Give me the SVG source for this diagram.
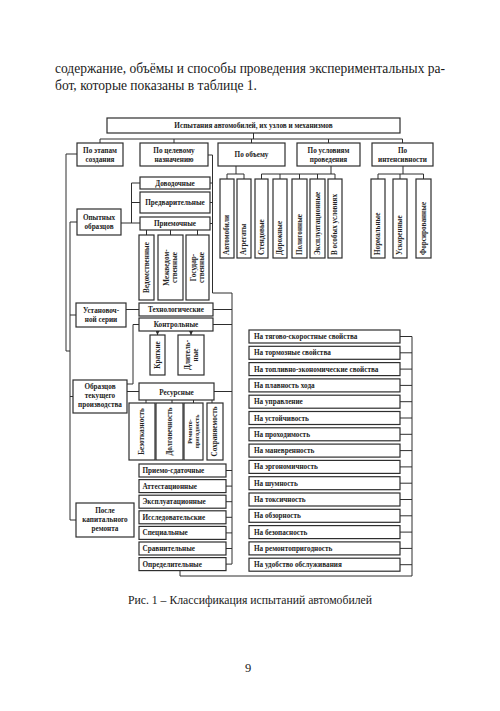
<svg xmlns="http://www.w3.org/2000/svg" width="500" height="711" viewBox="0 0 500 711">
<style>
.b{fill:#fff;stroke:#2e2e2e;stroke-width:1.2}
.c{fill:none;stroke:#2e2e2e;stroke-width:1}
.t,.l,.vs,.p{font-family:'Liberation Serif','DejaVu Serif','Times New Roman',serif}
.t{font-weight:bold;font-size:7.2px;fill:#222;text-anchor:middle}
.l{font-weight:bold;font-size:7.2px;fill:#222;text-anchor:start}
.vs{font-weight:bold;font-size:7.2px;fill:#222;text-anchor:start}
.p{fill:#1a1a1a}
</style>
<defs>
<marker id="ah" markerWidth="4" markerHeight="4" refX="4" refY="2" orient="auto" markerUnits="userSpaceOnUse"><path d="M0,0 L4,2 L0,4 Z" fill="#2e2e2e"/></marker>
</defs>
<rect width="500" height="711" fill="#fff"/>
<text class="p" x="55" y="73" font-size="14.5" textLength="390" lengthAdjust="spacingAndGlyphs">содержание, объёмы и способы проведения экспериментальных ра-</text>
<text class="p" x="55" y="89.5" font-size="14.5" textLength="202" lengthAdjust="spacingAndGlyphs">бот, которые показаны в таблице 1.</text>

<g id="connectors">
<path class="c" d="M253.5,133V139M100,139H402.5M100,139V143M174,139V143M251.5,139V143M328.5,139V143M402.5,139V143"/>
<path class="c" d="M236,166V174M227,174H244M227,174V179M244,174V179"/>
<path class="c" d="M331,166V174M261.5,174H335M261.5,174V179M280,174V179M299.5,174V179M317.5,174V179M335,174V179"/>
<path class="c" d="M403,166V174M378,174H423.5M378,174V179M400,174V179M423.5,174V179"/>
<path class="c" d="M77,154H66V351H70M70,222V520M70,222H77M70,315H76M70,396.5H73M70,520H76"/>
<path class="c" d="M121,223H140M131.5,183V223M131.5,183H140M131.5,202.5H140"/>
<path class="c" d="M208,155H212.5V293H232V564M210,183H212.5M210,202.5H212.5M210,223.5H212.5M213,309.5H232M213,324.5H232M214,391.5H232"/>
<path class="c" d="M226,470.5H232M226,486.1H232M226,501.7H232M226,517.3H232M226,532.9H232M226,548.5H232M226,564.1H232"/>
<path class="c" d="M146.5,230V235M170.5,230V235M197.5,230V235"/>
<path class="c" d="M126,309.5H139M127,384H133V324.5H139M127,391.5H139"/>
<path class="c" d="M157.5,331V335" marker-end="url(#ah)"/>
<path class="c" d="M191,331V335" marker-end="url(#ah)"/>
<path class="c" d="M146,400V403M172,400V403M193.5,400V403M212,400V403"/>
<path class="c" d="M180,570.6V576H412V336.5M400,336.5H412M400,352.8H412M400,369.1H412M400,385.4H412M400,401.7H412M400,418H412M400,434.3H412M400,450.6H412M400,466.9H412M400,483.2H412M400,499.5H412M400,515.8H412M400,532.1H412M400,548.4H412M400,564.7H412"/>
</g>

<g id="root"><rect class="b" x="107" y="118" width="293" height="15"/><text class="t" x="253.5" y="128.3">Испытания автомобилей, их узлов и механизмов</text></g>

<g id="po-etapam"><rect class="b" x="77" y="143" width="46" height="23"/><text class="t" x="100" y="152.5">По этапам</text><text class="t" x="100" y="161.5">создания</text></g>
<g id="po-celevomu"><rect class="b" x="140" y="143" width="68" height="23"/><text class="t" x="174" y="152.5">По целевому</text><text class="t" x="174" y="161.5">назначению</text></g>
<g id="po-obemu"><rect class="b" x="218" y="143" width="67" height="23"/><text class="t" x="251.5" y="157">По объему</text></g>
<g id="po-usloviyam"><rect class="b" x="297" y="143" width="63" height="23"/><text class="t" x="328.5" y="152.5">По условиям</text><text class="t" x="328.5" y="161.5">проведения</text></g>
<g id="po-intensivnosti"><rect class="b" x="372" y="143" width="61" height="23"/><text class="t" x="402.5" y="152.5">По</text><text class="t" x="402.5" y="161.5">интенсивности</text></g>

<g id="avtomobili"><rect class="b" x="220" y="179" width="14" height="79"/><text class="vs" transform="translate(229.4,255) rotate(-90)">Автомобили</text></g>
<g id="agregaty"><rect class="b" x="237" y="179" width="14" height="79"/><text class="vs" transform="translate(246.4,255) rotate(-90)">Агрегаты</text></g>
<g id="stendovye"><rect class="b" x="255" y="179" width="13" height="79"/><text class="vs" transform="translate(263.9,255) rotate(-90)">Стендовые</text></g>
<g id="dorozhnye"><rect class="b" x="273" y="179" width="14" height="79"/><text class="vs" transform="translate(282.4,255) rotate(-90)">Дорожные</text></g>
<g id="poligonnye"><rect class="b" x="292" y="179" width="15" height="79"/><text class="vs" transform="translate(301.9,255) rotate(-90)">Полигонные</text></g>
<g id="ekspl-usl"><rect class="b" x="310" y="179" width="15" height="79"/><text class="vs" transform="translate(319.9,255) rotate(-90)">Эксплуатационные</text></g>
<g id="osobye"><rect class="b" x="328" y="179" width="14" height="79"/><text class="vs" transform="translate(337.4,255) rotate(-90)">В особых условиях</text></g>
<g id="normalnye"><rect class="b" x="371" y="179" width="14" height="79"/><text class="vs" transform="translate(380.4,255) rotate(-90)">Нормальные</text></g>
<g id="uskorennye"><rect class="b" x="393" y="179" width="14" height="79"/><text class="vs" transform="translate(402.4,255) rotate(-90)">Ускоренные</text></g>
<g id="forsirovannye"><rect class="b" x="416" y="179" width="15" height="79"/><text class="vs" transform="translate(425.9,255) rotate(-90)">Форсированные</text></g>

<g id="dovodochnye"><rect class="b" x="140" y="177" width="70" height="12"/><text class="t" x="175" y="185.5">Доводочные</text></g>
<g id="predvaritelnye"><rect class="b" x="140" y="192" width="70" height="21"/><text class="t" x="175" y="205">Предварительные</text></g>
<g id="priemochnye"><rect class="b" x="140" y="217" width="70" height="13"/><text class="t" x="175" y="226">Приемочные</text></g>

<g id="vedomstvennye"><rect class="b" x="139" y="235" width="15" height="65"/><text class="t" transform="translate(148.9,267.5) rotate(-90)">Ведомственные</text></g>
<g id="mezhvedom"><rect class="b" x="158" y="235" width="25" height="65"/><text class="t" transform="translate(169,267.5) rotate(-90)">Межведом-</text><text class="t" transform="translate(177,267.5) rotate(-90)">ственные</text></g>
<g id="gosudar"><rect class="b" x="186" y="235" width="23" height="65"/><text class="t" transform="translate(196,267.5) rotate(-90)">Государ-</text><text class="t" transform="translate(204,267.5) rotate(-90)">ственные</text></g>

<g id="opytnyh"><rect class="b" x="77" y="209" width="44" height="26"/><text class="t" x="99" y="219.5">Опытных</text><text class="t" x="99" y="228.5">образцов</text></g>
<g id="ustanovochnoy"><rect class="b" x="76" y="303" width="50" height="24"/><text class="t" x="101" y="312.5">Установоч-</text><text class="t" x="101" y="321.5">ной серии</text></g>
<g id="tekushchego"><rect class="b" x="73" y="380" width="54" height="33"/><text class="t" x="100" y="389">Образцов</text><text class="t" x="100" y="398">текущего</text><text class="t" x="100" y="407">производства</text></g>
<g id="posle-remonta"><rect class="b" x="76" y="503" width="58" height="34"/><text class="t" x="105" y="512.5">После</text><text class="t" x="105" y="521.5">капитального</text><text class="t" x="105" y="530.5">ремонта</text></g>

<g id="tehnologicheskie"><rect class="b" x="139" y="303" width="74" height="13"/><text class="t" x="176" y="312">Технологические</text></g>
<g id="kontrolnye"><rect class="b" x="139" y="318" width="74" height="13"/><text class="t" x="176" y="327.3">Контрольные</text></g>
<g id="kratkie"><rect class="b" x="150" y="335" width="15" height="40"/><text class="t" transform="translate(159.9,355) rotate(-90)">Краткие</text></g>
<g id="dlitelnye"><rect class="b" x="178" y="335" width="26" height="40"/><text class="t" transform="translate(189.5,355) rotate(-90)">Длитель-</text><text class="t" transform="translate(197.5,355) rotate(-90)">ные</text></g>

<g id="resursnye"><rect class="b" x="139" y="383" width="75" height="17"/><text class="t" x="176.5" y="394.5">Ресурсные</text></g>
<g id="bezotkaznost"><rect class="b" x="129" y="403" width="26" height="57"/><text class="t" transform="translate(144.4,431.5) rotate(-90)">Безотказность</text></g>
<g id="dolgovechnost"><rect class="b" x="156" y="403" width="27" height="57"/><text class="t" transform="translate(171.9,431.5) rotate(-90)">Долговечность</text></g>
<g id="remontoprigodnost"><rect class="b" x="184" y="403" width="19" height="57"/><text class="t" transform="translate(191.8,431.5) rotate(-90)" style="font-size:6px">Ремонто-</text><text class="t" transform="translate(198.6,431.5) rotate(-90)" style="font-size:6px">пригодность</text></g>
<g id="sohranyaemost"><rect class="b" x="207" y="403" width="16" height="57"/><text class="t" transform="translate(217.4,431.5) rotate(-90)">Сохраняемость</text></g>

<g id="priemo-sdatochnye"><rect class="b" x="139" y="464" width="87" height="13"/><text class="l" x="142.5" y="473">Приемо-сдаточные</text></g>
<g id="attestacionnye"><rect class="b" x="139" y="479.6" width="87" height="13"/><text class="l" x="142.5" y="488.6">Аттестационные</text></g>
<g id="ekspluatacionnye"><rect class="b" x="139" y="495.2" width="87" height="13"/><text class="l" x="142.5" y="504.2">Эксплуатационные</text></g>
<g id="issledovatelskie"><rect class="b" x="139" y="510.8" width="87" height="13"/><text class="l" x="142.5" y="519.8">Исследовательские</text></g>
<g id="specialnye"><rect class="b" x="139" y="526.4" width="87" height="13"/><text class="l" x="142.5" y="535.4">Специальные</text></g>
<g id="sravnitelnye"><rect class="b" x="139" y="542" width="87" height="13"/><text class="l" x="142.5" y="551">Сравнительные</text></g>
<g id="opredelitelnye"><rect class="b" x="139" y="557.6" width="87" height="13"/><text class="l" x="142.5" y="566.6">Определительные</text></g>

<g id="na-1"><rect class="b" x="249" y="330" width="151" height="13"/><text class="l" x="254" y="339">На тягово-скоростные свойства</text></g>
<g id="na-2"><rect class="b" x="249" y="346.3" width="151" height="13"/><text class="l" x="254" y="355.3">На тормозные свойства</text></g>
<g id="na-3"><rect class="b" x="249" y="362.6" width="151" height="13"/><text class="l" x="254" y="371.6">На топливно-экономические свойства</text></g>
<g id="na-4"><rect class="b" x="249" y="378.9" width="151" height="13"/><text class="l" x="254" y="387.9">На плавность хода</text></g>
<g id="na-5"><rect class="b" x="249" y="395.2" width="151" height="13"/><text class="l" x="254" y="404.2">На управление</text></g>
<g id="na-6"><rect class="b" x="249" y="411.5" width="151" height="13"/><text class="l" x="254" y="420.5">На устойчивость</text></g>
<g id="na-7"><rect class="b" x="249" y="427.8" width="151" height="13"/><text class="l" x="254" y="436.8">На проходимость</text></g>
<g id="na-8"><rect class="b" x="249" y="444.1" width="151" height="13"/><text class="l" x="254" y="453.1">На маневренность</text></g>
<g id="na-9"><rect class="b" x="249" y="460.4" width="151" height="13"/><text class="l" x="254" y="469.4">На эргономичность</text></g>
<g id="na-10"><rect class="b" x="249" y="476.7" width="151" height="13"/><text class="l" x="254" y="485.7">На шумность</text></g>
<g id="na-11"><rect class="b" x="249" y="493" width="151" height="13"/><text class="l" x="254" y="502">На токсичность</text></g>
<g id="na-12"><rect class="b" x="249" y="509.3" width="151" height="13"/><text class="l" x="254" y="518.3">На обзорность</text></g>
<g id="na-13"><rect class="b" x="249" y="525.6" width="151" height="13"/><text class="l" x="254" y="534.6">На безопасность</text></g>
<g id="na-14"><rect class="b" x="249" y="541.9" width="151" height="13"/><text class="l" x="254" y="550.9">На ремонтопригодность</text></g>
<g id="na-15"><rect class="b" x="249" y="558.2" width="151" height="13"/><text class="l" x="254" y="567.2">На удобство обслуживания</text></g>

<text class="p" x="128" y="604" font-size="12.5" textLength="244" lengthAdjust="spacingAndGlyphs">Рис. 1 – Классификация испытаний автомобилей</text>
<text class="p" x="248" y="672" font-size="12.5" text-anchor="middle">9</text>
</svg>
